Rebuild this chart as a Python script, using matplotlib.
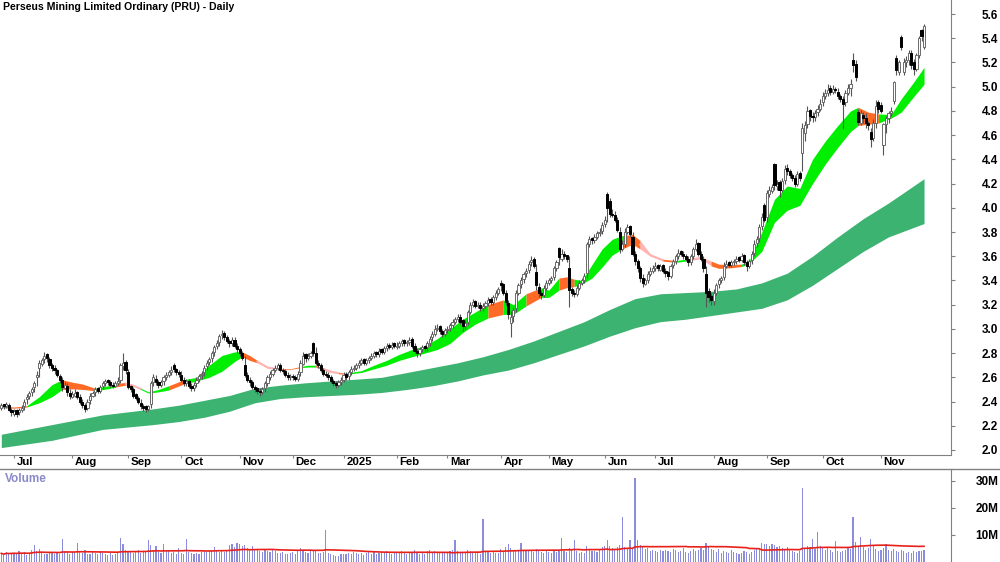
import numpy as np
import pandas as pd
import matplotlib
matplotlib.use("Agg")
import matplotlib.pyplot as plt
from matplotlib.lines import Line2D

plt.rcParams['font.family'] = ['Liberation Sans', 'DejaVu Sans']

title = "Perseus Mining Limited Ordinary (PRU) - Daily"

# ASX trading days on the chart
asx_holidays = ['2024-12-25', '2024-12-26', '2025-01-01', '2025-01-27',
                '2025-04-18', '2025-04-21', '2025-04-25', '2025-06-09']
dates = pd.bdate_range('2024-06-24', '2025-11-26', freq='C', holidays=asx_holidays)

opens = [
    # Jun 24
    2.35, 2.38, 2.36, 2.37, 2.33,
    # Jul 24
    2.30, 2.33, 2.31, 2.33, 2.36, 2.42, 2.45, 2.48, 2.52, 2.60, 2.68, 2.71, 2.75, 2.79, 2.75, 2.70,
    2.68, 2.66, 2.61, 2.58, 2.51, 2.53, 2.47,
    # Aug 24
    2.44, 2.45, 2.48, 2.44, 2.40, 2.37, 2.35, 2.41, 2.45, 2.48, 2.51, 2.49, 2.53, 2.55, 2.58, 2.56,
    2.54, 2.53, 2.55, 2.58, 2.69, 2.73,
    # Sep 24
    2.64, 2.53, 2.50, 2.46, 2.43, 2.39, 2.36, 2.36, 2.34, 2.38, 2.56, 2.59, 2.56, 2.54, 2.57, 2.60,
    2.62, 2.64, 2.70, 2.67, 2.64,
    # Oct 24
    2.62, 2.58, 2.55, 2.57, 2.53, 2.51, 2.55, 2.59, 2.62, 2.64, 2.69, 2.73, 2.76, 2.81, 2.86, 2.89,
    2.95, 2.97, 2.93, 2.90, 2.88, 2.91, 2.86,
    # Nov 24
    2.83, 2.80, 2.70, 2.62, 2.58, 2.56, 2.52, 2.51, 2.49, 2.48, 2.51, 2.55, 2.60, 2.63, 2.66, 2.68,
    2.70, 2.66, 2.65, 2.62, 2.60,
    # Dec 24
    2.61, 2.60, 2.59, 2.64, 2.71, 2.79, 2.76, 2.78, 2.88, 2.80, 2.72, 2.70, 2.66, 2.63, 2.62, 2.60,
    2.57, 2.55, 2.54, 2.56,
    # Jan 25
    2.58, 2.63, 2.61, 2.64, 2.67, 2.68, 2.70, 2.72, 2.75, 2.72, 2.74, 2.76, 2.78, 2.81, 2.79, 2.83,
    2.81, 2.84, 2.87, 2.85, 2.88,
    # Feb 25
    2.85, 2.86, 2.88, 2.91, 2.88, 2.89, 2.92, 2.86, 2.82, 2.80, 2.83, 2.86, 2.85, 2.88, 2.93, 2.96,
    3.00, 3.02, 2.98, 2.96,
    # Mar 25
    2.99, 3.01, 3.03, 3.06, 3.08, 3.10, 3.07, 3.02, 3.06, 3.14, 3.20, 3.23, 3.19, 3.20, 3.17, 3.19,
    3.21, 3.25, 3.22, 3.26, 3.30,
    # Apr 25
    3.38, 3.37, 3.30, 3.21, 3.05, 3.11, 3.17, 3.30, 3.37, 3.41, 3.46, 3.49, 3.55, 3.58, 3.47, 3.35,
    3.30, 3.28, 3.34,
    # May 25
    3.38, 3.40, 3.43, 3.50, 3.67, 3.58, 3.62, 3.61, 3.50, 3.33, 3.30, 3.29, 3.34, 3.38, 3.40, 3.46,
    3.70, 3.75, 3.73, 3.76, 3.79, 3.81,
    # Jun 25
    3.87, 4.11, 4.06, 3.95, 3.94, 3.90, 3.80, 3.66, 3.70, 3.80, 3.85, 3.76, 3.62, 3.56, 3.50, 3.42,
    3.37, 3.40, 3.45, 3.48,
    # Jul 25
    3.50, 3.53, 3.49, 3.53, 3.48, 3.47, 3.44, 3.53, 3.56, 3.60, 3.64, 3.62, 3.60, 3.58, 3.55, 3.60,
    3.66, 3.71, 3.62, 3.58, 3.45, 3.31, 3.27,
    # Aug 25
    3.23, 3.30, 3.37, 3.40, 3.43, 3.52, 3.55, 3.53, 3.55, 3.56, 3.59, 3.57, 3.61, 3.55, 3.52, 3.57,
    3.63, 3.71, 3.75, 3.85, 4.02,
    # Sep 25
    3.92, 4.11, 4.14, 4.36, 4.18, 4.21, 4.15, 4.23, 4.33, 4.30, 4.27, 4.25, 4.20, 4.29, 4.45, 4.62,
    4.69, 4.81, 4.76, 4.75, 4.79, 4.82,
    # Oct 25
    4.87, 4.92, 4.95, 4.99, 4.96, 4.98, 4.96, 4.92, 4.90, 4.87, 4.95, 4.99, 5.22, 5.19, 4.79, 4.70,
    4.77, 4.74, 4.70, 4.63, 4.58, 4.70, 4.87,
    # Nov 25
    4.85, 4.52, 4.69, 4.74, 4.78, 4.88, 5.24, 5.12, 5.41, 5.12, 5.20, 5.22, 5.28, 5.20, 5.15, 5.26,
    5.47, 5.33,
]

closes = [
    2.37, 2.36, 2.38, 2.33, 2.31,
    2.32, 2.30, 2.33, 2.35, 2.40, 2.44, 2.47, 2.50, 2.55, 2.62, 2.72, 2.74, 2.78, 2.76, 2.70, 2.68,
    2.66, 2.62, 2.58, 2.52, 2.54, 2.48, 2.45,
    2.46, 2.47, 2.44, 2.40, 2.37, 2.34, 2.40, 2.45, 2.47, 2.50, 2.49, 2.52, 2.55, 2.57, 2.56, 2.54,
    2.53, 2.55, 2.57, 2.70, 2.72, 2.66,
    2.52, 2.50, 2.45, 2.43, 2.40, 2.36, 2.35, 2.34, 2.36, 2.55, 2.60, 2.56, 2.54, 2.56, 2.60, 2.62,
    2.64, 2.66, 2.67, 2.64, 2.63,
    2.58, 2.55, 2.57, 2.53, 2.51, 2.54, 2.58, 2.61, 2.63, 2.68, 2.72, 2.75, 2.80, 2.85, 2.88, 2.94,
    2.96, 2.93, 2.90, 2.88, 2.91, 2.86, 2.83,
    2.80, 2.76, 2.62, 2.58, 2.56, 2.52, 2.50, 2.49, 2.48, 2.50, 2.55, 2.60, 2.63, 2.66, 2.68, 2.70,
    2.66, 2.65, 2.62, 2.60, 2.61,
    2.60, 2.59, 2.63, 2.72, 2.78, 2.76, 2.78, 2.80, 2.80, 2.72, 2.70, 2.66, 2.63, 2.62, 2.60, 2.57,
    2.55, 2.54, 2.56, 2.58,
    2.62, 2.60, 2.64, 2.67, 2.68, 2.70, 2.72, 2.74, 2.72, 2.74, 2.76, 2.78, 2.80, 2.79, 2.82, 2.81,
    2.84, 2.86, 2.85, 2.87, 2.86,
    2.86, 2.88, 2.90, 2.88, 2.89, 2.91, 2.86, 2.82, 2.80, 2.83, 2.85, 2.84, 2.88, 2.92, 2.96, 3.00,
    3.01, 2.98, 2.96, 2.99,
    3.00, 3.03, 3.06, 3.08, 3.10, 3.06, 3.02, 3.05, 3.14, 3.20, 3.22, 3.19, 3.20, 3.17, 3.19, 3.21,
    3.24, 3.22, 3.26, 3.30, 3.33,
    3.36, 3.30, 3.22, 3.12, 3.10, 3.16, 3.30, 3.36, 3.40, 3.45, 3.48, 3.54, 3.57, 3.52, 3.36, 3.30,
    3.28, 3.34, 3.38,
    3.40, 3.42, 3.50, 3.55, 3.59, 3.62, 3.60, 3.58, 3.32, 3.30, 3.29, 3.34, 3.38, 3.40, 3.44, 3.70,
    3.74, 3.73, 3.76, 3.79, 3.80, 3.86,
    3.90, 4.00, 3.95, 3.94, 3.90, 3.82, 3.66, 3.70, 3.80, 3.84, 3.78, 3.62, 3.56, 3.50, 3.42, 3.38,
    3.40, 3.45, 3.48, 3.50,
    3.52, 3.50, 3.52, 3.48, 3.46, 3.44, 3.52, 3.56, 3.60, 3.63, 3.62, 3.60, 3.58, 3.55, 3.60, 3.66,
    3.70, 3.62, 3.58, 3.50, 3.30, 3.26, 3.24,
    3.30, 3.36, 3.40, 3.42, 3.52, 3.54, 3.53, 3.55, 3.56, 3.58, 3.57, 3.60, 3.55, 3.52, 3.56, 3.62,
    3.70, 3.74, 3.84, 3.92, 3.90,
    4.12, 4.15, 4.17, 4.19, 4.20, 4.15, 4.22, 4.32, 4.30, 4.27, 4.25, 4.20, 4.28, 4.25, 4.66, 4.68,
    4.80, 4.76, 4.75, 4.78, 4.82, 4.86,
    4.92, 4.95, 4.97, 4.96, 4.98, 4.97, 4.92, 4.90, 4.86, 4.95, 4.99, 5.02, 5.18, 5.08, 4.71, 4.78,
    4.74, 4.70, 4.68, 4.57, 4.70, 4.84, 4.82,
    4.80, 4.69, 4.74, 4.78, 4.80, 5.04, 5.14, 5.20, 5.33, 5.20, 5.22, 5.28, 5.18, 5.15, 5.26, 5.40,
    5.42, 5.50,
]

highs = [
    2.39, 2.38, 2.40, 2.39, 2.35,
    2.34, 2.34, 2.35, 2.37, 2.42, 2.46, 2.49, 2.52, 2.57, 2.65, 2.74, 2.76, 2.81, 2.80, 2.77, 2.72,
    2.70, 2.67, 2.63, 2.60, 2.56, 2.55, 2.50,
    2.49, 2.50, 2.49, 2.46, 2.42, 2.39, 2.42, 2.47, 2.49, 2.52, 2.52, 2.54, 2.57, 2.59, 2.59, 2.58,
    2.56, 2.57, 2.60, 2.72, 2.80, 2.74,
    2.67, 2.54, 2.52, 2.47, 2.45, 2.42, 2.38, 2.37, 2.37, 2.57, 2.63, 2.62, 2.58, 2.58, 2.62, 2.64,
    2.66, 2.69, 2.72, 2.68, 2.66,
    2.65, 2.60, 2.59, 2.59, 2.55, 2.56, 2.60, 2.63, 2.65, 2.70, 2.74, 2.77, 2.82, 2.87, 2.91, 2.96,
    2.99, 2.98, 2.95, 2.92, 2.93, 2.93, 2.88,
    2.85, 2.82, 2.78, 2.64, 2.60, 2.58, 2.54, 2.52, 2.51, 2.52, 2.57, 2.62, 2.65, 2.68, 2.70, 2.72,
    2.72, 2.68, 2.67, 2.64, 2.63,
    2.63, 2.62, 2.65, 2.74, 2.81, 2.80, 2.80, 2.82, 2.89, 2.85, 2.74, 2.72, 2.68, 2.65, 2.64, 2.62,
    2.59, 2.57, 2.58, 2.60,
    2.64, 2.64, 2.66, 2.69, 2.70, 2.72, 2.74, 2.76, 2.76, 2.76, 2.78, 2.80, 2.82, 2.82, 2.84, 2.84,
    2.86, 2.88, 2.88, 2.89, 2.89,
    2.89, 2.90, 2.92, 2.92, 2.91, 2.93, 2.93, 2.88, 2.84, 2.85, 2.87, 2.87, 2.90, 2.94, 2.98, 3.03,
    3.04, 3.03, 3.00, 3.01,
    3.02, 3.05, 3.08, 3.10, 3.12, 3.12, 3.08, 3.07, 3.16, 3.22, 3.25, 3.24, 3.22, 3.22, 3.21, 3.23,
    3.26, 3.26, 3.28, 3.32, 3.35,
    3.40, 3.38, 3.32, 3.24, 3.15, 3.18, 3.32, 3.38, 3.43, 3.47, 3.50, 3.56, 3.60, 3.59, 3.54, 3.38,
    3.32, 3.36, 3.40,
    3.42, 3.44, 3.52, 3.57, 3.68, 3.66, 3.64, 3.61, 3.60, 3.35, 3.32, 3.36, 3.40, 3.42, 3.46, 3.72,
    3.77, 3.76, 3.78, 3.81, 3.83, 3.88,
    3.93, 4.13, 4.08, 3.99, 3.97, 3.92, 3.84, 3.73, 3.83, 3.87, 3.86, 3.80, 3.64, 3.58, 3.52, 3.45,
    3.42, 3.48, 3.51, 3.53,
    3.55, 3.54, 3.54, 3.54, 3.50, 3.48, 3.54, 3.58, 3.62, 3.66, 3.65, 3.64, 3.62, 3.60, 3.62, 3.68,
    3.74, 3.72, 3.64, 3.60, 3.52, 3.34, 3.30,
    3.33, 3.38, 3.42, 3.44, 3.55, 3.57, 3.56, 3.57, 3.58, 3.60, 3.60, 3.63, 3.62, 3.57, 3.58, 3.64,
    3.73, 3.77, 3.87, 3.96, 4.04,
    4.15, 4.18, 4.20, 4.37, 4.23, 4.23, 4.25, 4.35, 4.36, 4.32, 4.29, 4.27, 4.30, 4.30, 4.70, 4.72,
    4.84, 4.82, 4.79, 4.81, 4.85, 4.90,
    4.96, 4.98, 5.02, 5.01, 5.01, 5.00, 4.99, 4.94, 4.92, 4.97, 5.02, 5.06, 5.28, 5.22, 4.82, 4.81,
    4.79, 4.78, 4.72, 4.66, 4.73, 4.89, 4.89,
    4.87, 4.70, 4.76, 4.80, 4.83, 5.05, 5.26, 5.22, 5.43, 5.24, 5.25, 5.30, 5.30, 5.23, 5.28, 5.42,
    5.48, 5.52,
]

lows = [
    2.33, 2.34, 2.35, 2.32, 2.28,
    2.28, 2.27, 2.29, 2.31, 2.33, 2.38, 2.42, 2.45, 2.48, 2.53, 2.60, 2.69, 2.72, 2.73, 2.68, 2.65,
    2.63, 2.60, 2.55, 2.49, 2.50, 2.45, 2.42,
    2.43, 2.44, 2.42, 2.38, 2.35, 2.31, 2.33, 2.38, 2.44, 2.45, 2.47, 2.47, 2.50, 2.53, 2.54, 2.52,
    2.51, 2.52, 2.54, 2.55, 2.66, 2.63,
    2.50, 2.48, 2.43, 2.41, 2.38, 2.34, 2.32, 2.31, 2.32, 2.35, 2.53, 2.54, 2.51, 2.52, 2.54, 2.58,
    2.60, 2.62, 2.64, 2.62, 2.60,
    2.56, 2.53, 2.53, 2.51, 2.49, 2.49, 2.52, 2.56, 2.59, 2.61, 2.66, 2.70, 2.73, 2.78, 2.83, 2.86,
    2.92, 2.91, 2.88, 2.85, 2.86, 2.84, 2.80,
    2.78, 2.74, 2.60, 2.56, 2.53, 2.50, 2.48, 2.46, 2.45, 2.46, 2.48, 2.53, 2.58, 2.61, 2.64, 2.66,
    2.64, 2.63, 2.60, 2.58, 2.58,
    2.58, 2.57, 2.57, 2.61, 2.70, 2.73, 2.74, 2.76, 2.78, 2.70, 2.68, 2.64, 2.61, 2.60, 2.58, 2.55,
    2.53, 2.51, 2.52, 2.54,
    2.56, 2.58, 2.58, 2.62, 2.65, 2.66, 2.68, 2.70, 2.70, 2.70, 2.72, 2.74, 2.76, 2.77, 2.77, 2.79,
    2.79, 2.82, 2.83, 2.83, 2.84,
    2.83, 2.84, 2.86, 2.86, 2.86, 2.87, 2.84, 2.80, 2.77, 2.78, 2.81, 2.82, 2.82, 2.86, 2.90, 2.94,
    2.98, 2.96, 2.93, 2.94,
    2.97, 2.98, 3.01, 3.04, 3.06, 3.04, 2.98, 3.00, 3.03, 3.12, 3.18, 3.17, 3.17, 3.15, 3.15, 3.17,
    3.19, 3.20, 3.20, 3.24, 3.28,
    3.31, 3.28, 3.20, 3.08, 2.93, 3.06, 3.14, 3.28, 3.34, 3.38, 3.43, 3.46, 3.52, 3.50, 3.32, 3.26,
    3.25, 3.26, 3.32,
    3.36, 3.38, 3.40, 3.48, 3.53, 3.56, 3.58, 3.55, 3.18, 3.27, 3.26, 3.27, 3.32, 3.36, 3.38, 3.42,
    3.68, 3.70, 3.71, 3.74, 3.77, 3.78,
    3.84, 3.88, 3.92, 3.92, 3.88, 3.80, 3.63, 3.64, 3.68, 3.78, 3.76, 3.60, 3.53, 3.47, 3.39, 3.35,
    3.36, 3.38, 3.44, 3.46,
    3.48, 3.48, 3.48, 3.46, 3.43, 3.40, 3.42, 3.50, 3.54, 3.58, 3.60, 3.58, 3.56, 3.52, 3.53, 3.58,
    3.64, 3.60, 3.56, 3.47, 3.18, 3.22, 3.20,
    3.20, 3.28, 3.34, 3.38, 3.40, 3.50, 3.51, 3.51, 3.53, 3.54, 3.55, 3.55, 3.53, 3.48, 3.50, 3.54,
    3.60, 3.68, 3.72, 3.82, 3.88,
    3.88, 4.09, 4.12, 4.15, 4.15, 4.09, 4.13, 4.20, 4.27, 4.25, 4.22, 4.17, 4.18, 4.22, 4.30, 4.55,
    4.66, 4.72, 4.71, 4.72, 4.76, 4.80,
    4.84, 4.90, 4.92, 4.93, 4.94, 4.95, 4.90, 4.87, 4.65, 4.84, 4.93, 4.92, 5.12, 5.05, 4.68, 4.68,
    4.70, 4.66, 4.64, 4.50, 4.55, 4.66, 4.78,
    4.78, 4.44, 4.62, 4.70, 4.76, 4.86, 5.10, 5.10, 5.30, 5.10, 5.16, 5.18, 5.15, 5.10, 5.13, 5.24,
    5.38, 5.31,
]

# volume in millions of shares
volumes = [
    3.2, 2.6, 3.8, 2.9, 3.4,
    3.5, 2.8, 4.1, 3.0, 3.6, 2.7, 3.3, 4.4, 6.3, 3.9, 4.8, 3.5, 3.1, 2.9, 3.7, 3.2, 2.8, 3.4, 3.0,
    8.5, 4.2, 3.6, 3.1,
    3.8, 3.4, 7.0, 4.0, 3.5, 4.6, 3.1, 2.9, 3.6, 3.3, 2.8, 3.9, 3.4, 3.0, 2.7, 3.2, 2.6, 3.1, 3.5,
    8.9, 6.8, 4.3,
    4.1, 3.6, 3.2, 3.8, 4.4, 3.5, 4.0, 3.7, 8.0, 6.2, 4.5, 6.0, 3.8, 3.5, 6.5, 4.2, 3.9, 3.4, 3.6,
    3.1, 5.0,
    3.3, 3.0, 8.5, 3.6, 3.2, 2.9, 3.5, 3.1, 3.8, 4.2, 3.6, 3.9, 4.4, 5.6, 4.1, 3.7, 4.5, 3.8, 4.0,
    6.2, 6.8, 5.4, 7.0,
    6.5, 5.8, 6.3, 5.2, 4.8, 5.9, 4.5, 4.9, 4.2, 3.8, 4.6, 4.1, 3.7, 4.3, 3.9, 3.5, 3.2, 3.6, 3.0,
    2.8, 3.3,
    3.6, 3.1, 4.2, 5.0, 4.4, 3.7, 3.4, 3.9, 4.6, 4.0, 3.5, 3.2, 3.8, 12.0, 3.3, 2.9, 2.6, 2.4, 2.2,
    3.0,
    2.8, 3.1, 3.4, 2.9, 3.6, 3.2, 3.0, 3.5, 2.7, 3.3, 3.8, 3.1, 3.6, 2.9, 3.4, 3.7, 3.2, 4.0, 3.5,
    3.1, 3.3,
    3.6, 3.2, 4.1, 3.4, 3.0, 3.7, 3.3, 4.4, 3.8, 3.1, 3.5, 2.9, 3.9, 4.6, 3.7, 4.2, 3.5, 3.8, 3.2,
    3.6,
    3.4, 3.9, 4.3, 8.0, 4.1, 3.6, 3.2, 3.8, 4.5, 4.0, 3.7, 3.3, 3.6, 3.1, 16.0, 4.2, 3.9, 3.4, 3.7,
    3.2, 3.5,
    4.8, 4.2, 5.6, 6.5, 5.2, 4.6, 4.1, 4.5, 7.0, 4.3, 3.9, 4.4, 4.0, 3.6, 4.8, 4.2, 3.7, 3.5, 3.9,
    3.8, 3.4, 4.0, 3.6, 4.4, 9.0, 4.1, 3.7, 5.2, 4.6, 8.0, 3.9, 3.5, 3.8, 3.3, 6.0, 4.4, 3.9, 4.2,
    3.6, 4.8, 5.4,
    6.0, 8.2, 5.8, 5.0, 4.6, 5.4, 6.2, 16.5, 5.6, 4.9, 8.0, 5.3, 31.0, 8.0, 6.4, 5.5, 4.8, 5.0, 4.2,
    4.6,
    4.1, 3.7, 4.4, 3.9, 4.6, 4.2, 3.8, 4.9, 4.3, 3.6, 4.0, 5.0, 3.7, 3.4, 4.2, 4.7, 3.9, 4.4, 5.1,
    4.6, 7.2, 5.4, 4.8,
    4.4, 3.8, 4.9, 3.5, 4.2, 3.6, 3.2, 4.5, 3.8, 3.4, 2.9, 3.3, 4.0, 3.6, 3.1, 3.7, 4.6, 5.0, 4.8,
    7.0, 6.8,
    6.5, 5.8, 6.8, 6.2, 5.6, 5.9, 5.2, 4.8, 5.4, 4.6, 4.2, 3.6, 3.2, 3.9, 27.4, 5.2, 6.0, 5.6, 8.5,
    4.9, 11.2, 5.8,
    5.4, 4.6, 5.0, 4.4, 3.8, 7.8, 4.2, 3.6, 4.0, 4.5, 5.2, 4.8, 16.7, 7.4, 6.0, 9.3, 5.5, 4.6, 5.1,
    8.5, 6.2, 4.8, 4.2,
    4.6, 5.0, 6.7, 4.4, 3.9, 4.8, 4.2, 3.6, 4.5, 4.0, 3.4, 3.8, 3.2, 4.1, 3.6, 3.9, 4.2, 4.4,
]

# short-term ribbon: bar index, upper edge, lower edge, colour of the following stretch
rib_idx = [0, 5, 10, 15, 20, 24, 28, 32, 37, 42, 45, 49, 52, 55, 58, 62, 66, 72, 77, 82, 87, 92,
           95, 98, 101, 105, 110, 114, 118, 121, 124, 127, 130, 133, 136, 142, 147, 152, 157, 162,
           167, 172, 177, 182, 187, 192, 198, 202, 207, 213, 216, 220, 223, 226, 229, 233, 237, 241,
           245, 249, 252, 256, 261, 266, 272, 276, 280, 283, 288, 292, 295, 300, 305, 310, 315, 320,
           325, 330, 335, 338, 342, 346, 351, 355, 360, 364]
rib_upper = [2.365, 2.355, 2.365, 2.44, 2.54, 2.58, 2.56, 2.545, 2.51, 2.53, 2.545, 2.56, 2.54, 2.51,
             2.48, 2.50, 2.53, 2.58, 2.60, 2.70, 2.78, 2.81, 2.81, 2.78, 2.74, 2.69, 2.67, 2.67,
             2.69, 2.70, 2.70, 2.68, 2.655, 2.64, 2.635, 2.655, 2.70, 2.74, 2.79, 2.83, 2.86, 2.92,
             3.00, 3.08, 3.14, 3.20, 3.24, 3.20, 3.29, 3.34, 3.32, 3.42, 3.43, 3.41, 3.40, 3.53,
             3.66, 3.74, 3.77, 3.78, 3.73, 3.62, 3.575, 3.565, 3.58, 3.595, 3.56, 3.535, 3.53, 3.535,
             3.56, 3.80, 4.07, 4.18, 4.16, 4.40, 4.55, 4.68, 4.80, 4.83, 4.79, 4.775, 4.77, 4.90,
             5.04, 5.16]
rib_lower = [2.35, 2.345, 2.355, 2.39, 2.44, 2.50, 2.505, 2.50, 2.49, 2.505, 2.52, 2.535, 2.525, 2.50,
             2.47, 2.48, 2.495, 2.545, 2.57, 2.60, 2.65, 2.73, 2.77, 2.74, 2.72, 2.675, 2.66, 2.665,
             2.68, 2.685, 2.685, 2.66, 2.64, 2.63, 2.625, 2.64, 2.67, 2.70, 2.74, 2.77, 2.80, 2.83,
             2.88, 2.97, 3.04, 3.09, 3.12, 3.12, 3.19, 3.26, 3.26, 3.32, 3.34, 3.35, 3.37, 3.42,
             3.51, 3.61, 3.66, 3.70, 3.66, 3.60, 3.56, 3.55, 3.565, 3.58, 3.52, 3.50, 3.505, 3.515,
             3.54, 3.64, 3.88, 3.98, 4.02, 4.20, 4.36, 4.50, 4.63, 4.68, 4.69, 4.70, 4.74, 4.79,
             4.92, 5.02]
rib_state = "ooggg" "oooggoppgggogggggooppoogg" "oppogggggggggggogg" "oggoogggggoopp" "ogpp" "ooo" \
            "gggggggggg" "oogggg"

# long-term ribbon: bar index, upper edge, lower edge
long_idx = [0, 10, 20, 30, 40, 50, 60, 70, 80, 90, 100, 110, 120, 130, 140, 150, 160, 170, 180,
            190, 200, 210, 220, 230, 240, 250, 260, 270, 280, 290, 300, 310, 320, 330, 340, 350, 364]
long_upper = [2.13, 2.17, 2.21, 2.25, 2.29, 2.315, 2.34, 2.37, 2.41, 2.45, 2.51, 2.535, 2.555, 2.57,
              2.585, 2.60, 2.64, 2.68, 2.72, 2.77, 2.83, 2.90, 2.98, 3.06, 3.16, 3.25, 3.29, 3.30,
              3.31, 3.33, 3.38, 3.46, 3.60, 3.76, 3.91, 4.04, 4.24]
long_lower = [2.02, 2.05, 2.08, 2.125, 2.17, 2.19, 2.21, 2.235, 2.27, 2.32, 2.39, 2.425, 2.44, 2.45,
              2.46, 2.475, 2.50, 2.53, 2.57, 2.62, 2.66, 2.72, 2.79, 2.86, 2.94, 3.01, 3.06, 3.08,
              3.11, 3.14, 3.17, 3.24, 3.36, 3.50, 3.64, 3.76, 3.87]

opens = np.array(opens)
closes = np.array(closes)
highs = np.array(highs)
lows = np.array(lows)
volumes = np.array(volumes) * 1e6
x = np.arange(len(closes))
dates = dates[:len(x)]

fig = plt.figure(figsize=(10, 5.62), dpi=100)
ax = fig.add_axes([0, 1 - 455 / 562, 0.951, 455 / 562])
axv = fig.add_axes([0, 0, 0.951, 93 / 562])

# long ribbon
ax.fill_between(long_idx, long_lower, long_upper, color='#3cb371', lw=0, zorder=1)

# short ribbon, filled run by run
colours = {'g': '#00ee00', 'o': '#ff6a26', 'p': '#ffb4b4'}
rib_idx = np.array(rib_idx)
rib_upper = np.array(rib_upper)
rib_lower = np.array(rib_lower)
start = 0
for k in range(1, len(rib_idx)):
    if k == len(rib_idx) - 1 or rib_state[k] != rib_state[start]:
        sl = slice(start, k + 1)
        ax.fill_between(rib_idx[sl], rib_lower[sl], rib_upper[sl], color=colours[rib_state[start]],
                        lw=0, zorder=2)
        if rib_state[start] == 'p':
            ax.plot(rib_idx[sl], (rib_lower[sl] + rib_upper[sl]) / 2, color=colours['p'], lw=1.3,
                    zorder=2)
        start = k

# candles
up = closes >= opens
ax.vlines(x, lows, highs, color='#555555', lw=0.8, zorder=3)
ax.bar(x[up], (closes - opens)[up], bottom=opens[up], width=0.85, color='white',
       edgecolor='#6a6a6a', lw=0.7, zorder=4)
ax.bar(x[~up], (closes - opens)[~up], bottom=opens[~up], width=0.85, color='black',
       edgecolor='black', lw=0.7, zorder=4)

# volume and its moving average
vol_ma = pd.Series(volumes).rolling(50, min_periods=1).mean()
axv.bar(x, volumes, width=0.45, color='#8c8cdc', lw=0)
axv.plot(x, vol_ma, color='#e8201a', lw=1.2)

xlim = (-1.3 / 2.535, (951 - 1.3) / 2.535)
for a in (ax, axv):
    a.set_xlim(*xlim)
    a.yaxis.tick_right()
    a.spines['left'].set_visible(False)
    a.spines['top'].set_visible(False)
    a.spines['right'].set_color('#808080')
    a.spines['bottom'].set_color('#808080')
    a.tick_params(axis='y', direction='out', length=3, color='#808080', pad=31, labelsize=8.5)
axv.spines['bottom'].set_visible(False)

price_ticks = np.round(np.arange(2.0, 5.61, 0.2), 1)
ax.set_ylim(1.9587, 5.716)
ax.set_yticks(price_ticks)
ax.set_yticklabels(['%.1f' % t for t in price_ticks], fontweight='bold', ha='right')

axv.set_ylim(0, 34.4e6)
axv.set_yticks([10e6, 20e6, 30e6])
axv.set_yticklabels(['10M', '20M', '30M'], fontweight='bold', ha='right')
axv.set_xticks([])

month_pos = [i for i in range(1, len(dates)) if dates[i].month != dates[i - 1].month]
month_lab = [str(dates[i].year) if dates[i].month == 1 else dates[i].strftime('%b') for i in month_pos]
ax.set_xticks(month_pos)
ax.tick_params(axis='x', direction='out', length=2.5, color='#808080', labelbottom=False)
for p, lab in zip(month_pos, month_lab):
    ax.annotate(lab, xy=(p, 0), xycoords=('data', 'axes fraction'), xytext=(2, -1.5),
                textcoords='offset points', ha='left', va='top', fontsize=8.2, fontweight='bold')

fig.add_artist(Line2D([0, 1], [1 - 469 / 562] * 2, color='#808080', lw=1))

ax.text(0.003, 0.995, title, transform=ax.transAxes, ha='left', va='top', fontsize=7.6,
        fontweight='bold')
axv.text(0.005, 0.96, 'Volume', transform=axv.transAxes, ha='left', va='top', fontsize=8.5,
         fontweight='bold', color='#8a8ac8')

fig.savefig('out.png', dpi=100)
